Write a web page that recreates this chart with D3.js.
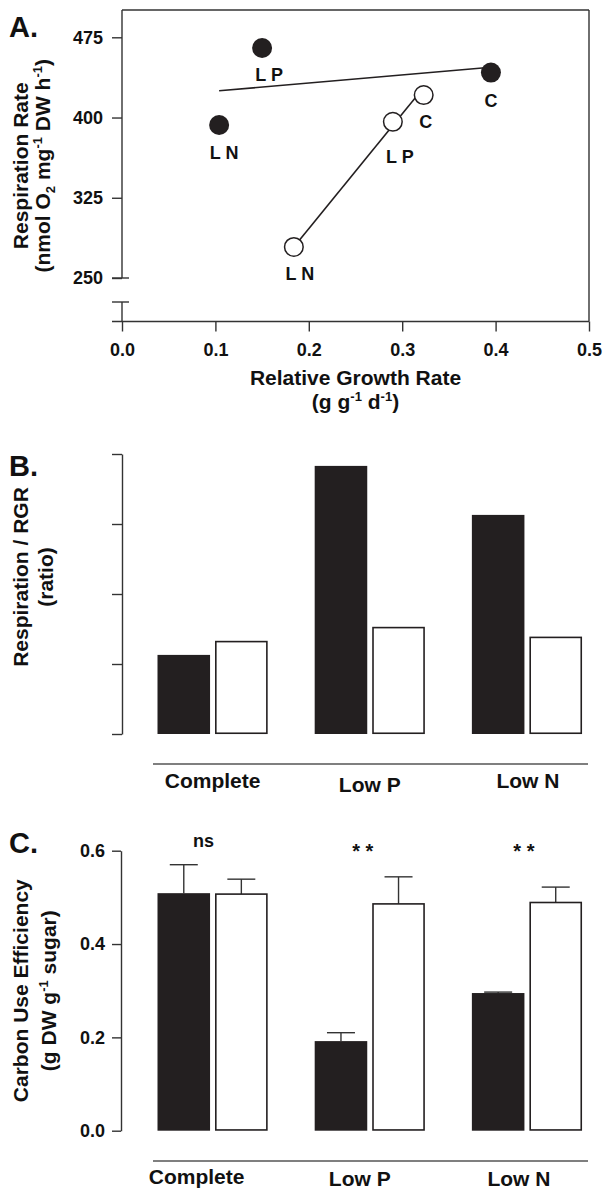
<!DOCTYPE html>
<html lang="en">
<head>
  <meta charset="UTF-8">
  <title>Respiration, RGR and carbon use efficiency</title>
  <style>
    body { margin: 0; background: #fff; }
    svg { display: block; }
    text { font-family: "Liberation Sans", Arial, Helvetica, sans-serif; font-weight: bold; fill: #111; }
  </style>
</head>
<body>
  <svg width="603" height="1189"></svg>

  <script src="https://d3js.org/d3.v7.min.js"></script>
  <script>
    // ---- data ----
    // panel A: filled = first line, open = second line (LN, LP, C)
    const pointLabels = ["L N", "L P", "C"];
    const rgrFilled = [0.104, 0.150, 0.395];
    const respFilled = [393, 465, 442];
    const rgrOpen = [0.184, 0.290, 0.323];
    const respOpen = [279, 396, 421];
    // fitted lines (start / end)
    const fitFilledX = [0.104, 0.395];
    const fitFilledY = [425, 447];
    const fitOpenX = [0.184, 0.323];
    const fitOpenY = [279, 428];
    const rgrTicks = [0, 0.1, 0.2, 0.3, 0.4, 0.5];
    const respTicks = [250, 325, 400, 475];

    // panels B and C
    const treatments = ["Complete", "Low P", "Low N"];
    const ratioFilled = [1.13, 3.83, 3.13];
    const ratioOpen = [1.32, 1.52, 1.38];
    const ratioTicks = [0, 1, 2, 3, 4];

    const cueFilled = [0.509, 0.192, 0.295];
    const cueFilledErr = [0.061, 0.018, 0.002];
    const cueOpen = [0.507, 0.486, 0.489];
    const cueOpenErr = [0.032, 0.058, 0.033];
    const cueTicks = [0, 0.2, 0.4, 0.6];
    const signif = ["ns", "* *", "* *"];

    const ink = "#231f20";
    const axisCol = "#333";
    const svg = d3.select("svg");

    // text with super/subscripts
    function rich(sel, parts, fs) {
      let shift = 0;
      parts.forEach(p => {
        const off = p.sup ? -0.36 * fs : p.sub ? 0.22 * fs : 0;
        sel.append("tspan")
          .attr("dy", off - shift)
          .attr("font-size", (p.sup || p.sub) ? fs * 0.62 : fs)
          .text(p.t);
        shift = off;
      });
      return sel;
    }

    function vTitle(x, y, parts, fs) {
      const t = svg.append("text")
        .attr("transform", `translate(${x},${y}) rotate(-90)`)
        .attr("text-anchor", "middle")
        .attr("font-size", fs);
      return rich(t, parts, fs);
    }

    function panelLetter(txt, y) {
      svg.append("text").attr("x", 9).attr("y", y).attr("font-size", 29).text(txt);
    }

    // ================= A =================
    const xA = d3.scaleLinear().domain([0, 0.5]).range([122, 589]);
    const yA = d3.scaleLinear().domain([250, 475]).range([278, 37.3]);
    const topA = 10, botA = 321.5;
    const gapTop = yA(250), gapBot = 302;

    const gA = svg.append("g");
    const frame = gA.append("g").attr("stroke", axisCol).attr("stroke-width", 1.4).attr("fill", "none");
    frame.append("line").attr("x1", xA(0)).attr("x2", xA(0.5)).attr("y1", topA).attr("y2", topA);
    frame.append("line").attr("x1", xA(0.5)).attr("x2", xA(0.5)).attr("y1", topA).attr("y2", botA);
    frame.append("line").attr("x1", xA(0) - 10).attr("x2", xA(0.5)).attr("y1", botA).attr("y2", botA);
    frame.append("line").attr("x1", xA(0)).attr("x2", xA(0)).attr("y1", topA).attr("y2", gapTop);
    frame.append("line").attr("x1", xA(0)).attr("x2", xA(0)).attr("y1", gapBot).attr("y2", botA);
    // axis break marks
    frame.append("line").attr("x1", xA(0) - 10).attr("x2", xA(0) + 7).attr("y1", gapTop).attr("y2", gapTop);
    frame.append("line").attr("x1", xA(0) - 10).attr("x2", xA(0) + 7).attr("y1", gapBot).attr("y2", gapBot);

    const axA = gA.append("g").attr("transform", `translate(0,${botA})`)
      .call(d3.axisBottom(xA).tickValues(rgrTicks).tickFormat(d3.format(".1f")).tickSize(10).tickSizeOuter(0));
    axA.select(".domain").remove();
    axA.selectAll("line").attr("stroke", axisCol).attr("stroke-width", 1.4);
    axA.selectAll("text").attr("font-size", 18).attr("font-family", null).attr("y", 34).attr("dy", null);

    const ayA = gA.append("g").attr("transform", `translate(${xA(0)},0)`)
      .call(d3.axisLeft(yA).tickValues(respTicks).tickSize(10).tickPadding(9).tickSizeOuter(0));
    ayA.select(".domain").remove();
    ayA.selectAll("line").attr("stroke", axisCol).attr("stroke-width", 1.4);
    ayA.selectAll("text").attr("font-size", 18).attr("font-family", null);

    // fitted lines
    const lineA = d3.line().x(d => xA(d[0])).y(d => yA(d[1]));
    gA.append("path").attr("d", lineA(d3.zip(fitFilledX, fitFilledY)))
      .attr("stroke", ink).attr("stroke-width", 1.6).attr("fill", "none");
    gA.append("path").attr("d", lineA(d3.zip(fitOpenX, fitOpenY)))
      .attr("stroke", ink).attr("stroke-width", 1.6).attr("fill", "none");

    const filledPts = pointLabels.map((l, i) => ({ l, x: rgrFilled[i], y: respFilled[i] }));
    const openPts = pointLabels.map((l, i) => ({ l, x: rgrOpen[i], y: respOpen[i] }));

    gA.selectAll("circle.f").data(filledPts).join("circle").attr("class", "f")
      .attr("cx", d => xA(d.x)).attr("cy", d => yA(d.y)).attr("r", 10).attr("fill", ink);
    gA.selectAll("circle.o").data(openPts).join("circle").attr("class", "o")
      .attr("cx", d => xA(d.x)).attr("cy", d => yA(d.y)).attr("r", 9.3)
      .attr("fill", "#fff").attr("stroke", ink).attr("stroke-width", 1.5);

    // label offsets (px) from the marker
    const offFilled = [[5, 34], [7, 33], [0, 34]];
    const offOpen = [[6, 33], [7, 41], [2, 33]];
    gA.selectAll("text.lf").data(filledPts).join("text").attr("class", "lf")
      .attr("x", (d, i) => xA(d.x) + offFilled[i][0]).attr("y", (d, i) => yA(d.y) + offFilled[i][1])
      .attr("text-anchor", "middle").attr("font-size", 18).text(d => d.l);
    gA.selectAll("text.lo").data(openPts).join("text").attr("class", "lo")
      .attr("x", (d, i) => xA(d.x) + offOpen[i][0]).attr("y", (d, i) => yA(d.y) + offOpen[i][1])
      .attr("text-anchor", "middle").attr("font-size", 18).text(d => d.l);

    panelLetter("A.", 37);
    svg.append("text").attr("x", (xA(0) + xA(0.5)) / 2).attr("y", 385).attr("text-anchor", "middle")
      .attr("font-size", 21).text("Relative Growth Rate");
    rich(svg.append("text").attr("x", (xA(0) + xA(0.5)) / 2).attr("y", 409).attr("text-anchor", "middle").attr("font-size", 21),
      [{ t: "(g g" }, { t: "-1", sup: true }, { t: " d" }, { t: "-1", sup: true }, { t: ")" }], 21);
    vTitle(28, (topA + botA) / 2, [{ t: "Respiration Rate" }], 21);
    vTitle(50, (topA + botA) / 2, [{ t: "(nmol O" }, { t: "2", sub: true }, { t: " mg" }, { t: "-1", sup: true },
      { t: " DW h" }, { t: "-1", sup: true }, { t: ")" }], 21);

    // ================= shared bar x =================
    const xBand = d3.scaleBand().domain(treatments).range([157.5, 582]).paddingInner(0.2994).paddingOuter(0);
    const xSub = d3.scaleBand().domain(["f", "o"]).range([0, xBand.bandwidth()]).paddingInner(0.087);

    function bars(g, y, filled, open) {
      const rows = treatments.map((t, i) => [
        { t, k: "f", v: filled[i] },
        { t, k: "o", v: open[i] }
      ]).flat();
      g.selectAll("rect").data(rows).join("rect")
        .attr("x", d => xBand(d.t) + xSub(d.k) + (d.k === "o" ? 0.75 : 0))
        .attr("width", d => xSub.bandwidth() - (d.k === "o" ? 1.5 : 0))
        .attr("y", d => y(d.v))
        .attr("height", d => y(0) - y(d.v) - (d.k === "o" ? 0.75 : 0))
        .attr("fill", d => d.k === "f" ? ink : "#fff")
        .attr("stroke", d => d.k === "f" ? "none" : ink)
        .attr("stroke-width", 1.6);
      return rows;
    }

    // ================= B =================
    const yB = d3.scaleLinear().domain([0, 4]).range([734, 454]);
    const gB = svg.append("g");
    const ayB = gB.append("g").attr("transform", "translate(122,0)")
      .call(d3.axisLeft(yB).tickValues(ratioTicks).tickFormat("").tickSize(10).tickSizeOuter(0));
    ayB.select(".domain").attr("stroke", axisCol).attr("stroke-width", 1.4);
    ayB.selectAll("line").attr("stroke", axisCol).attr("stroke-width", 1.4);
    bars(gB, yB, ratioFilled, ratioOpen);

    gB.append("line").attr("x1", 153).attr("x2", 588).attr("y1", 764).attr("y2", 764)
      .attr("stroke", "#555").attr("stroke-width", 1.4);
    const nudgeB = { "Complete": [0, 788], "Low P": [0, 792], "Low N": [1, 788] };
    gB.selectAll("text.cat").data(treatments).join("text").attr("class", "cat")
      .attr("x", d => xBand(d) + xBand.bandwidth() / 2 + nudgeB[d][0]).attr("y", d => nudgeB[d][1])
      .attr("text-anchor", "middle").attr("font-size", 21).text(d => d);

    panelLetter("B.", 476);
    vTitle(28, 577, [{ t: "Respiration / RGR" }], 21);
    vTitle(53, 577, [{ t: "(ratio)" }], 21);

    // ================= C =================
    const yC = d3.scaleLinear().domain([0, 0.6]).range([1130.7, 850.7]);
    const gC = svg.append("g");
    const ayC = gC.append("g").attr("transform", "translate(121,0)")
      .call(d3.axisLeft(yC).tickValues(cueTicks).tickFormat(d3.format(".1f")).tickSize(9).tickPadding(7).tickSizeOuter(0));
    ayC.select(".domain").attr("stroke", axisCol).attr("stroke-width", 1.4);
    ayC.selectAll("line").attr("stroke", axisCol).attr("stroke-width", 1.4);
    ayC.selectAll("text").attr("font-size", 18).attr("font-family", null);

    // error bars (upper only), drawn behind bars
    const errRows = treatments.map((t, i) => [
      { t, k: "f", v: cueFilled[i], e: cueFilledErr[i] },
      { t, k: "o", v: cueOpen[i], e: cueOpenErr[i] }
    ]).flat();
    const eb = gC.append("g").attr("stroke", axisCol).attr("stroke-width", 1.4);
    const cx = d => xBand(d.t) + xSub(d.k) + xSub.bandwidth() / 2;
    eb.selectAll("line.v").data(errRows).join("line").attr("class", "v")
      .attr("x1", cx).attr("x2", cx).attr("y1", d => yC(d.v)).attr("y2", d => yC(d.v + d.e));
    eb.selectAll("line.h").data(errRows).join("line").attr("class", "h")
      .attr("x1", d => cx(d) - 14).attr("x2", d => cx(d) + 14)
      .attr("y1", d => yC(d.v + d.e)).attr("y2", d => yC(d.v + d.e));

    bars(gC.append("g"), yC, cueFilled, cueOpen);

    const nudgeSig = { "Complete": [-9, 847, 18], "Low P": [-7, 858, 20], "Low N": [-3, 858, 20] };
    gC.selectAll("text.sig").data(treatments).join("text").attr("class", "sig")
      .attr("x", d => xBand(d) + xBand.bandwidth() / 2 + nudgeSig[d][0]).attr("y", d => nudgeSig[d][1])
      .attr("text-anchor", "middle").attr("font-size", d => nudgeSig[d][2]).text((d, i) => signif[i]);

    gC.append("line").attr("x1", 153).attr("x2", 588).attr("y1", 1161).attr("y2", 1161)
      .attr("stroke", "#555").attr("stroke-width", 1.4);
    const nudgeC = { "Complete": [-16, 1184], "Low P": [-10, 1186], "Low N": [-8, 1186] };
    gC.selectAll("text.cat").data(treatments).join("text").attr("class", "cat")
      .attr("x", d => xBand(d) + xBand.bandwidth() / 2 + nudgeC[d][0]).attr("y", d => nudgeC[d][1])
      .attr("text-anchor", "middle").attr("font-size", 21).text(d => d);

    panelLetter("C.", 853);
    vTitle(28, (yC(0) + yC(0.6)) / 2, [{ t: "Carbon Use Efficiency" }], 21);
    vTitle(56, (yC(0) + yC(0.6)) / 2, [{ t: "(g DW g" }, { t: "-1", sup: true }, { t: " sugar)" }], 21);
  </script>
</body>
</html>
